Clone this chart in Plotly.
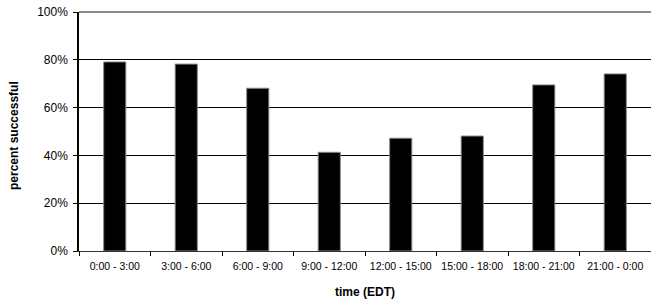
import plotly.graph_objects as go

categories = ["0:00 - 3:00", "3:00 - 6:00", "6:00 - 9:00", "9:00 - 12:00",
              "12:00 - 15:00", "15:00 - 18:00", "18:00 - 21:00", "21:00 - 0:00"]
success_rate = [0.791, 0.782, 0.681, 0.413, 0.472, 0.481, 0.695, 0.741]
y_ticks = [0, 0.2, 0.4, 0.6, 0.8, 1.0]

fig = go.Figure()
fig.add_trace(go.Bar(
    x=categories, y=success_rate,
    marker=dict(color="black", line=dict(color="#8a8a8a", width=1)),
))

fig.update_layout(
    width=651, height=303,
    margin=dict(l=79, r=0, t=12, b=52, autoexpand=False),
    paper_bgcolor="white", plot_bgcolor="white",
    bargap=0.69,
    showlegend=False,
    font=dict(family="Liberation Sans, Arial, sans-serif", color="black"),
)
fig.update_xaxes(
    type="category", automargin=False,
    showline=True, linecolor="#333333", linewidth=1,
    ticks="outside", ticklen=4, tickcolor="black", tickson="boundaries",
    tickfont=dict(size=10.5), ticklabelstandoff=5, ticklabeloverflow="allow",
    showgrid=False,
)
fig.update_yaxes(
    range=[0, 1], tickvals=y_ticks, tickformat=".0%", automargin=False,
    showline=True, linecolor="black", linewidth=1.5,
    ticks="outside", ticklen=4, tickcolor="black",
    tickfont=dict(size=12), ticklabelstandoff=3, ticklabeloverflow="allow",
    showgrid=True, gridcolor="black", gridwidth=1,
    zeroline=False,
)
fig.add_shape(type="line", xref="paper", yref="paper", x0=0, x1=1, y0=1, y1=1,
              line=dict(color="#8c8c8c", width=2))
fig.add_annotation(text="<b>time (EDT)</b>", xref="paper", yref="paper",
                   x=0.5, y=-(292 - 251) / 239, xanchor="center", yanchor="middle",
                   showarrow=False, font=dict(size=12))
fig.add_annotation(text="<b>percent successful</b>", xref="paper", yref="paper",
                   x=-(79 - 14) / 572, y=(251 - 136) / 239, xanchor="center", yanchor="middle",
                   textangle=-90, showarrow=False, font=dict(size=12))

fig.write_html("out.html",
               config={"displayModeBar": False},
               post_script="document.body.style.margin='0';document.body.style.overflow='hidden';")
